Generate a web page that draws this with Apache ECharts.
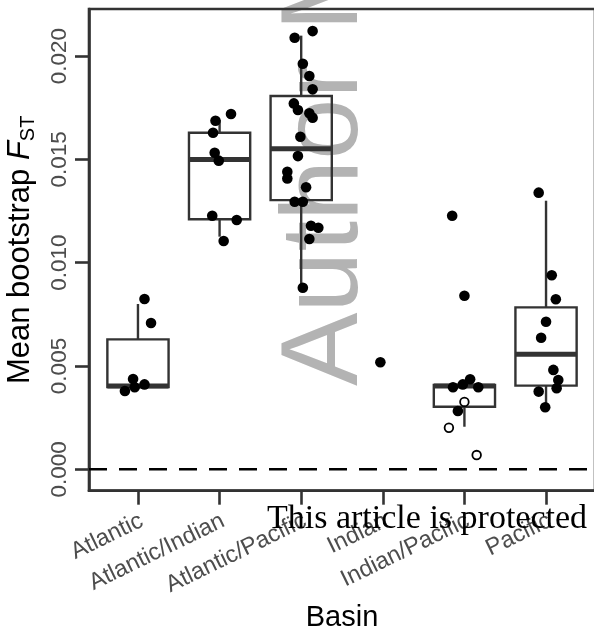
<!DOCTYPE html>
<html>
<head>
<meta charset="utf-8">
<script src="https://cdn.jsdelivr.net/npm/echarts@6/dist/echarts.min.js"></script>
<style>
  html, body { margin: 0; padding: 0; background: #fff; }
  #chart { width: 594px; height: 630px; }
</style>
</head>
<body>
<div id="chart"></div>
<script>
// Ocean basin categories along the x axis
const basins = ['Atlantic', 'Atlantic/Indian', 'Atlantic/Pacific', 'Indian', 'Indian/Pacific', 'Pacific'];

// Box summaries per basin: [lower whisker, Q1, median, Q3, upper whisker]
const boxAtlantic        = [0.00398, 0.00398, 0.00403, 0.00629, 0.00800];
const boxAtlanticIndian  = [0.01126, 0.01210, 0.01500, 0.01629, 0.01691];
const boxAtlanticPacific = [0.00879, 0.01303, 0.01552, 0.01807, 0.02099];
const boxIndianPacific   = [0.00206, 0.00303, 0.00403, 0.00408, 0.00408];
const boxPacific         = [0.00300, 0.00405, 0.00557, 0.00784, 0.01300];

// Mean bootstrap FST per population pair, with horizontal jitter (category units)
const fstAtlantic        = [0.00824, 0.00708, 0.00437, 0.00379, 0.00397, 0.00411];
const jitAtlantic        = [0.08, 0.16, -0.06, -0.16, -0.04, 0.08];
const fstAtlanticIndian  = [0.01720, 0.01687, 0.01629, 0.01532, 0.01494, 0.01227, 0.01207, 0.01105];
const jitAtlanticIndian  = [0.14, -0.05, -0.08, -0.06, -0.01, -0.09, 0.21, 0.05];
const fstAtlanticPacific = [0.02089, 0.02121, 0.01963, 0.01904, 0.01839, 0.01771, 0.01739, 0.01723, 0.01702, 0.01610,
                            0.01516, 0.01440, 0.01408, 0.01365, 0.01295, 0.01295, 0.01179, 0.01169, 0.01115, 0.00879];
const jitAtlanticPacific = [-0.08, 0.14, 0.02, 0.10, 0.14, -0.09, -0.04, 0.10, 0.14, -0.01,
                            -0.04, -0.17, -0.17, 0.06, -0.08, 0.02, 0.12, 0.21, 0.10, 0.02];
const fstIndian          = [0.00518];
const jitIndian          = [-0.03];
const fstIndianPacific   = [0.01227, 0.00840, 0.00436, 0.00411, 0.00397, 0.00397, 0.00282];
const jitIndianPacific   = [-0.15, 0.00, 0.07, -0.02, -0.14, 0.17, -0.08];
const fstPacific         = [0.01339, 0.00939, 0.00823, 0.00714, 0.00637, 0.00481, 0.00432, 0.00392, 0.00376, 0.00300];
const jitPacific         = [-0.09, 0.07, 0.12, 0.00, -0.06, 0.09, 0.15, 0.13, -0.09, -0.01];

// Non-significant pairs (open symbols)
const fstOpenIndianPacific = [0.00326, 0.00201, 0.00069];
const jitOpenIndianPacific = [0.00, -0.19, 0.15];

// Reference level (no differentiation)
const zeroLine = [0];

// Y axis tick values and labels
const yTicks = [0, 0.005, 0.010, 0.015, 0.020];
const yTickLabels = ['0.000', '0.005', '0.010', '0.015', '0.020'];

const INK = '#333333';
const TICK_TEXT = '#4d4d4d';
const X_MIN = 0.4, X_MAX = 6.6;
// basin labels hang slightly right of their tick (category units)
const LABEL_NUDGE = 0.045;

const boxes = [boxAtlantic, boxAtlanticIndian, boxAtlanticPacific, null, boxIndianPacific, boxPacific];
const boxData = [];
boxes.forEach((b, i) => { if (b) boxData.push([i + 1].concat(b)); });

const filledGroups = [
  [fstAtlantic, jitAtlantic], [fstAtlanticIndian, jitAtlanticIndian], [fstAtlanticPacific, jitAtlanticPacific],
  [fstIndian, jitIndian], [fstIndianPacific, jitIndianPacific], [fstPacific, jitPacific]
];
const filledData = [];
filledGroups.forEach(([vals, jit], i) => {
  vals.forEach((v, k) => filledData.push([i + 1 + jit[k], v]));
});
const openData = fstOpenIndianPacific.map((v, k) => [5 + jitOpenIndianPacific[k], v]);

const xTicks = basins.map((_, i) => i + 1);

const chart = echarts.init(document.getElementById('chart'), null, { renderer: 'canvas' });

function renderBox(params, api) {
  const x = api.value(0);
  const lo = api.value(1), q1 = api.value(2), med = api.value(3), q3 = api.value(4), hi = api.value(5);
  const half = 0.375;
  const cx = api.coord([x, med])[0];
  const left = api.coord([x - half, med])[0];
  const right = api.coord([x + half, med])[0];
  const yLo = api.coord([x, lo])[1], yQ1 = api.coord([x, q1])[1], yMed = api.coord([x, med])[1];
  const yQ3 = api.coord([x, q3])[1], yHi = api.coord([x, hi])[1];
  const thin = { stroke: INK, lineWidth: 2.4, fill: null };
  return {
    type: 'group',
    children: [
      { type: 'line', shape: { x1: cx, y1: yHi, x2: cx, y2: yQ3 }, style: thin },
      { type: 'line', shape: { x1: cx, y1: yQ1, x2: cx, y2: yLo }, style: thin },
      { type: 'rect', shape: { x: left, y: yQ3, width: right - left, height: yQ1 - yQ3 }, style: { stroke: INK, lineWidth: 2.4, fill: 'transparent' } },
      { type: 'line', shape: { x1: left, y1: yMed, x2: right, y2: yMed }, style: { stroke: INK, lineWidth: 5 } }
    ]
  };
}

function renderZeroLine(params, api) {
  const y = api.value(0);
  const p1 = api.coord([X_MIN, y]);
  const p2 = api.coord([X_MAX, y]);
  return {
    type: 'line',
    shape: { x1: p1[0], y1: p1[1], x2: p2[0], y2: p2[1] },
    style: { stroke: '#000000', lineWidth: 2.6, lineDash: [18, 12], lineCap: 'butt', fill: null }
  };
}

chart.setOption({
  animation: false,
  backgroundColor: '#ffffff',
  grid: {
    left: 89, top: 9, width: 506, height: 481.7,
    containLabel: false, outerBoundsMode: 'none',
    show: true, borderColor: INK, borderWidth: 2.6, backgroundColor: 'transparent'
  },
  graphic: [
    {
      type: 'text', x: 327, y: 386, rotation: Math.PI / 2, z: -10,
      style: { text: 'Author Manuscript', font: '110px "Liberation Sans"', fill: '#b3b3b3', textAlign: 'left', textVerticalAlign: 'middle' }
    },
    {
      type: 'text', x: 267, y: 519, z: 100,
      style: { text: 'This article is protected', font: '34px "Liberation Serif"', fill: '#000000', textAlign: 'left', textVerticalAlign: 'middle' }
    }
  ],
  xAxis: {
    type: 'value', min: X_MIN, max: X_MAX,
    name: 'Basin', nameLocation: 'middle', nameGap: 103,
    nameTextStyle: { fontFamily: 'Liberation Sans', fontSize: 29, color: '#000' },
    axisLine: { show: true, onZero: false, lineStyle: { color: INK, width: 2.6 } },
    axisTick: { show: true, length: 14, lineStyle: { color: INK, width: 2.6 }, customValues: xTicks },
    axisLabel: {
      customValues: xTicks.map(v => v + LABEL_NUDGE),
      formatter: v => basins[Math.round(v) - 1],
      rotate: 26, margin: 29, fontFamily: 'Liberation Sans', fontSize: 23.5, color: TICK_TEXT
    },
    splitLine: { show: false }
  },
  yAxis: {
    type: 'value', min: -0.001036, max: 0.02228,
    name: '{a|Mean bootstrap }{f|F}{s|ST}', nameLocation: 'middle', nameGap: 51, nameRotate: 90,
    nameTextStyle: {
      rich: {
        a: { fontFamily: 'Liberation Sans', fontSize: 31, color: '#000', lineHeight: 35 },
        f: { fontFamily: 'Liberation Sans', fontSize: 31, fontStyle: 'italic', color: '#000', lineHeight: 35 },
        s: { fontFamily: 'Liberation Sans', fontSize: 20, color: '#000', lineHeight: 20, padding: [29, 0, 0, 0], verticalAlign: 'bottom' }
      }
    },
    axisLine: { show: true, onZero: false, lineStyle: { color: INK, width: 2.6 } },
    axisTick: { show: true, length: 14, lineStyle: { color: INK, width: 2.6 }, customValues: yTicks },
    axisLabel: {
      customValues: yTicks,
      formatter: v => yTickLabels[yTicks.findIndex(t => Math.abs(t - v) < 1e-9)],
      rotate: 90, margin: 18, fontFamily: 'Liberation Sans', fontSize: 22.5, color: TICK_TEXT
    },
    splitLine: { show: false }
  },
  series: [
    {
      type: 'custom', renderItem: renderZeroLine, data: zeroLine.map(v => [v]),
      encode: { y: 0 }, z: 2, silent: true
    },
    {
      type: 'custom', renderItem: renderBox, data: boxData,
      encode: { x: 0, y: [1, 2, 3, 4, 5] }, z: 3, silent: true
    },
    {
      type: 'scatter', data: filledData, symbol: 'circle', symbolSize: 10.6,
      itemStyle: { color: '#000000', opacity: 1 }, z: 5, silent: true
    },
    {
      type: 'scatter', data: openData, symbol: 'circle', symbolSize: 8.6,
      itemStyle: { color: '#ffffff', borderColor: '#000000', borderWidth: 1.8, opacity: 1 }, z: 6, silent: true
    }
  ]
});
</script>
</body>
</html>
